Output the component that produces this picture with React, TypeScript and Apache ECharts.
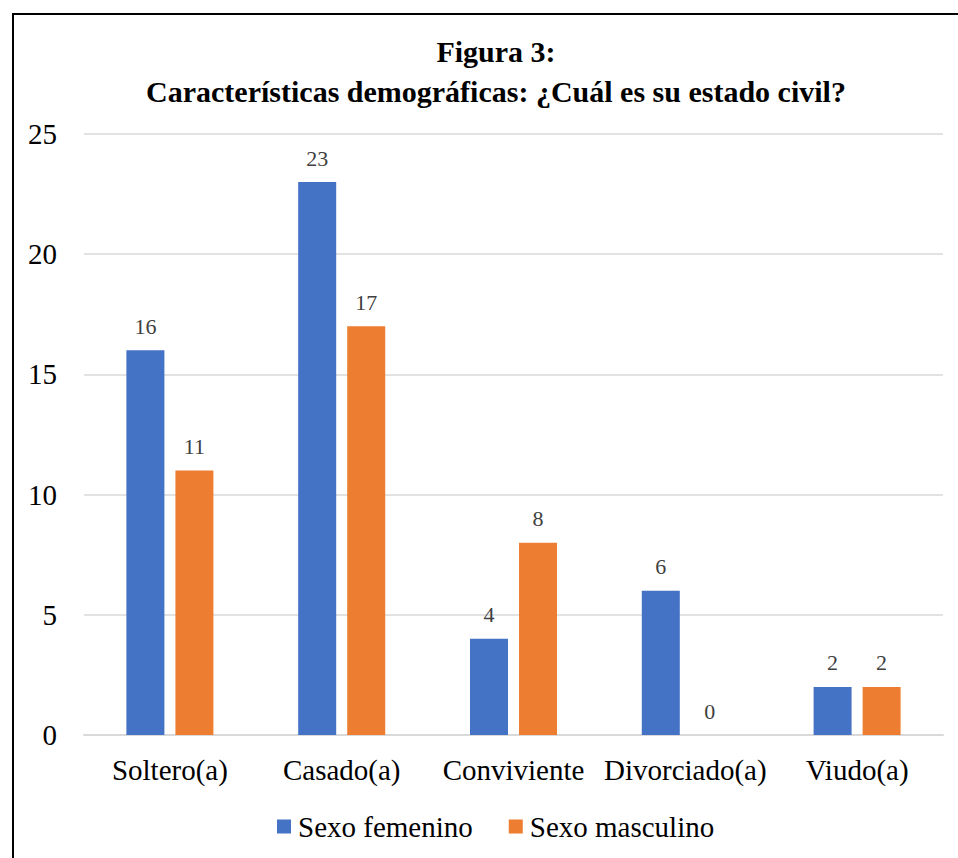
import React, { useEffect, useRef } from "react";
import * as echarts from "echarts";

const categories = ["Soltero(a)", "Casado(a)", "Conviviente", "Divorciado(a)", "Viudo(a)"];
const femenino = [16, 23, 4, 6, 2];
const masculino = [11, 17, 8, 0, 2];
const seriesNames = ["Sexo femenino", "Sexo masculino"];
const titleText = "Figura 3:\nCaracterísticas demográficas: ¿Cuál es su estado civil?";

const FONT = "Liberation Serif";

export default function App() {
  const ref = useRef<HTMLDivElement>(null);
  useEffect(() => {
    if (!ref.current) return;
    const chart = echarts.init(ref.current, null, { renderer: "svg" });
    const labelStyle = {
      show: true,
      position: "top",
      distance: 13,
      color: "#404040",
      fontSize: 22,
      fontFamily: FONT,
    };
    chart.setOption({
      animation: false,
      backgroundColor: "#ffffff",
      title: {
        text: titleText,
        left: 491,
        textAlign: "center",
        top: 26,
        textStyle: {
          fontFamily: FONT,
          fontWeight: "bold",
          fontSize: 30,
          lineHeight: 40,
          color: "#000000",
        },
      },
      graphic: [
        {
          type: "rect",
          shape: { x: 13, y: 14, width: 1000, height: 1000 },
          style: { fill: "none", stroke: "#000000", lineWidth: 2 },
          silent: true,
        },
      ],
      legend: {
        data: seriesNames,
        left: 272,
        top: 807,
        icon: "rect",
        itemWidth: 14,
        itemHeight: 14,
        itemGap: 36,
        textStyle: { fontFamily: FONT, fontSize: 29, color: "#000000", padding: [0, 0, 0, 2] },
      },
      grid: { left: 84, right: 15, top: 134, bottom: 123, containLabel: false },
      xAxis: {
        type: "category",
        data: categories,
        axisLine: { show: true, lineStyle: { color: "#d9d9d9", width: 2 } },
        axisTick: { show: false },
        axisLabel: { fontFamily: FONT, fontSize: 29, color: "#000000", margin: 20, interval: 0 },
      },
      yAxis: {
        type: "value",
        min: 0,
        max: 25,
        interval: 5,
        axisLine: { show: false },
        axisTick: { show: false },
        splitLine: { lineStyle: { color: "#d9d9d9", width: 1.5 } },
        axisLabel: { fontFamily: FONT, fontSize: 29, color: "#000000", margin: 27 },
      },
      series: [
        {
          name: seriesNames[0],
          type: "bar",
          data: femenino,
          barWidth: 38,
          barGap: "29%",
          itemStyle: { color: "#4472c4" },
          label: labelStyle,
        },
        {
          name: seriesNames[1],
          type: "bar",
          data: masculino,
          barWidth: 38,
          barGap: "29%",
          itemStyle: { color: "#ed7d31" },
          label: labelStyle,
        },
      ],
    });
    return () => chart.dispose();
  }, []);
  return (
    <div
      ref={ref}
      style={{ position: "absolute", left: 0, top: 0, width: 958, height: 858 }}
    />
  );
}
